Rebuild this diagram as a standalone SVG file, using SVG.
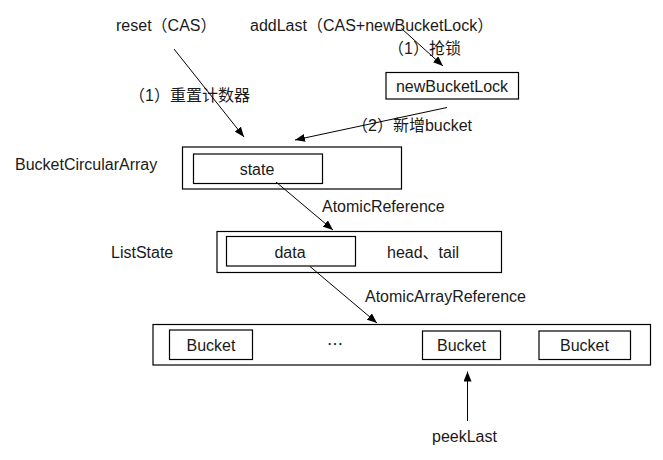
<svg xmlns="http://www.w3.org/2000/svg" width="663" height="460" viewBox="0 0 663 460">
<defs>
<marker id="ah" viewBox="0 0 10 8" refX="10" refY="4" markerWidth="10" markerHeight="8" markerUnits="userSpaceOnUse" orient="auto">
<path d="M0,0 L10,4 L0,8 Z" fill="#000"/>
</marker>
<style>
text{font-family:"Liberation Sans","Noto Sans CJK SC",sans-serif;font-size:16px;fill:#1a1a1a}
.m{text-anchor:middle}
rect{fill:#fff;stroke:#000;stroke-width:1.2}
.c line{stroke:#000;stroke-width:1;marker-end:url(#ah)}
</style>
</defs>
<rect x="0" y="0" width="663" height="460" style="stroke:none"/>

<g id="labels">
<text x="116" y="31">reset（CAS）</text>
<text x="250" y="31">addLast（CAS+newBucketLock）</text>
<text x="129" y="101">（1）重置计数器</text>
<text x="388" y="54">（1）抢锁</text>
<text x="352" y="131">（2）新增bucket</text>
<text x="15" y="170">BucketCircularArray</text>
<text x="322" y="212">AtomicReference</text>
<text x="111" y="258">ListState</text>
<text x="365" y="302">AtomicArrayReference</text>
<text x="432" y="442">peekLast</text>
</g>

<g id="newBucketLock">
<rect x="386" y="72.5" width="132.5" height="26.5"/>
<text class="m" x="452" y="91.5">newBucketLock</text>
</g>

<g id="BucketCircularArray">
<rect x="182.5" y="147" width="219" height="42"/>
</g>
<g id="state">
<rect x="193.5" y="154" width="129" height="29.5"/>
<text class="m" x="257" y="175">state</text>
</g>

<g id="ListState">
<rect x="217" y="231.5" width="284.5" height="41"/>
<text x="387" y="258">head、tail</text>
</g>
<g id="data">
<rect x="226.5" y="236.5" width="129" height="29.5"/>
<text class="m" x="290" y="258">data</text>
</g>

<g id="BucketArray">
<rect x="153" y="324.5" width="497.5" height="40.5"/>
<text class="m" x="335" y="350" style="font-family:'Noto Sans CJK SC',sans-serif">…</text>
</g>
<g id="bucket1">
<rect x="169.5" y="330" width="83" height="29.5"/>
<text class="m" x="211" y="351">Bucket</text>
</g>
<g id="bucket2">
<rect x="422.5" y="331" width="78" height="28.5"/>
<text class="m" x="461.5" y="351">Bucket</text>
</g>
<g id="bucket3">
<rect x="539" y="331" width="91.5" height="28.5"/>
<text class="m" x="584.5" y="351">Bucket</text>
</g>

<g class="c" id="connectors">
<line x1="174" y1="49" x2="244" y2="137"/>
<line x1="401.5" y1="28.5" x2="443" y2="66"/>
<line x1="447" y1="107.5" x2="295" y2="140"/>
<line x1="276" y1="182" x2="333" y2="230"/>
<line x1="310" y1="266.5" x2="377" y2="323"/>
<line x1="467.5" y1="421" x2="467.5" y2="371.5"/>
</g>
</svg>
